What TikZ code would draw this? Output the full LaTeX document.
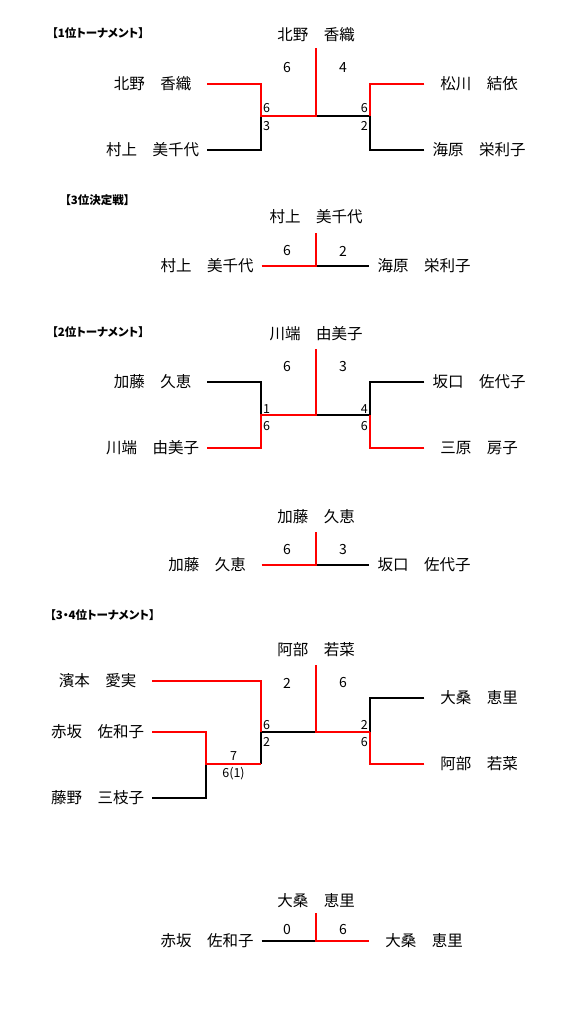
\documentclass[tikz,border=0pt]{standalone}
\usepackage{fontspec}
\setmainfont{Noto Sans CJK JP}
\newfontfamily\ttlfont[RawFeature=+palt]{Noto Sans CJK JP}
\usepackage{tikz}
\usetikzlibrary{positioning}
\definecolor{winred}{RGB}{255,0,0}

\begin{document}
\begin{tikzpicture}[x=1pt,y=-1pt,
  font=\fontsize{15.5}{17}\selectfont,
  ttl/.style={font=\ttlfont\fontsize{11.5}{13}\selectfont\bfseries,anchor=west,inner sep=0pt},
  player/.style={minimum width=109pt,minimum height=17pt,inner sep=0pt},
  champ/.style={inner sep=0pt},
  big/.style={font=\fontsize{14}{15}\selectfont,inner sep=0pt},
  sml/.style={font=\fontsize{12.5}{13}\selectfont,inner sep=0pt},
  ln/.style={line width=1.4pt,black},
  wn/.style={line width=1.4pt,winred},
]

\useasboundingbox (0,0) rectangle (588,1024);

% ------------------------------------------------------------------
% 1st place bracket
% ------------------------------------------------------------------
\begin{scope}
  \node[ttl] (t1) at (52,33) {【1位トーナメント】};
  \node[champ] (w1) at (316,35) {北野　香織};

  \node[player] (p1) at (152.5,84) {北野　香織};
  \node[player] (p2) at (152.5,150) {村上　美千代};
  \node[player] (p3) at (479,84) {松川　結依};
  \node[player] (p4) at (479,150) {海原　栄利子};

  \coordinate (j1) at (261,116);
  \coordinate (j2) at (370,116);
  \coordinate (c1) at (316,116);
  \coordinate (top1) at (316,48);

  \draw[ln] (p2.east) -| (j1);
  \draw[ln] (c1) -- (j2);
  \draw[ln] (p4.west) -| (j2);
  \draw[wn] (p1.east) -| (j1) -- (c1) -- (top1);
  \draw[wn] (p3.west) -| (j2);

  \node[big] (s1a) at (287,68) {6};
  \node[big] (s1b) at (343,68) {4};
  \node[sml,anchor=west] (s1c) at (263,108) {6};
  \node[sml,anchor=west] (s1d) at (263,126) {3};
  \node[sml,anchor=east] (s1e) at (368,108) {6};
  \node[sml,anchor=east] (s1f) at (368,126) {2};
\end{scope}

% ------------------------------------------------------------------
% 3rd place match
% ------------------------------------------------------------------
\begin{scope}
  \node[ttl] (t2) at (65,200) {【3位決定戦】};
  \node[champ] (w2) at (316,217) {村上　美千代};

  \node[player] (q1) at (207,266) {村上　美千代};
  \node[player] (q2) at (424,266) {海原　栄利子};

  \coordinate (c2) at (316,266);
  \coordinate (top2) at (316,233);

  \draw[ln] (c2) -- (q2.west);
  \draw[wn] (q1.east) -- (c2) -- (top2);

  \node[big] (s2a) at (287,251) {6};
  \node[big] (s2b) at (343,251) {2};
\end{scope}

% ------------------------------------------------------------------
% 2nd place bracket
% ------------------------------------------------------------------
\begin{scope}
  \node[ttl] (t3) at (52,332) {【2位トーナメント】};
  \node[champ] (w3) at (316,334) {川端　由美子};

  \node[player] (r1) at (152.5,382) {加藤　久恵};
  \node[player] (r2) at (152.5,448) {川端　由美子};
  \node[player] (r3) at (479,382) {坂口　佐代子};
  \node[player] (r4) at (479,448) {三原　房子};

  \coordinate (j3) at (261,415);
  \coordinate (j4) at (370,415);
  \coordinate (c3) at (316,415);
  \coordinate (top3) at (316,349);

  \draw[ln] (r1.east) -| (j3);
  \draw[ln] (c3) -- (j4);
  \draw[ln] (r3.west) -| (j4);
  \draw[wn] (r2.east) -| (j3) -- (c3) -- (top3);
  \draw[wn] (r4.west) -| (j4);

  \node[big] (s3a) at (287,367) {6};
  \node[big] (s3b) at (343,367) {3};
  \node[sml,anchor=west] (s3c) at (263,409) {1};
  \node[sml,anchor=west] (s3d) at (263,426) {6};
  \node[sml,anchor=east] (s3e) at (368,409) {4};
  \node[sml,anchor=east] (s3f) at (368,426) {6};
\end{scope}

% ------------------------------------------------------------------
% 2nd place final
% ------------------------------------------------------------------
\begin{scope}
  \node[champ] (w4) at (316,517) {加藤　久恵};

  \node[player] (m1) at (207,565) {加藤　久恵};
  \node[player] (m2) at (424,565) {坂口　佐代子};

  \coordinate (c4) at (316,565);
  \coordinate (top4) at (316,532);

  \draw[ln] (c4) -- (m2.west);
  \draw[wn] (m1.east) -- (c4) -- (top4);

  \node[big] (s4a) at (287,550) {6};
  \node[big] (s4b) at (343,550) {3};
\end{scope}

% ------------------------------------------------------------------
% 3rd/4th place bracket
% ------------------------------------------------------------------
\begin{scope}
  \node[ttl] (t5) at (50,615) {【3・4位トーナメント】};
  \node[champ] (w5) at (316,650) {阿部　若菜};

  \node[player] (u1) at (97.5,681) {濱本　愛実};
  \node[player] (u2) at (97.5,732) {赤坂　佐和子};
  \node[player] (u3) at (97.5,798) {藤野　三枝子};
  \node[player] (v1) at (479,698) {大桑　恵里};
  \node[player] (v2) at (479,764) {阿部　若菜};

  \coordinate (k0) at (206,764);
  \coordinate (k0b) at (261,764);
  \coordinate (k1) at (261,732);
  \coordinate (k2) at (370,732);
  \coordinate (c5) at (316,732);
  \coordinate (top5) at (316,665);

  \draw[ln] (u3.east) -| (k0);
  \draw[ln] (k0b) -- (k1) -- (c5);
  \draw[ln] (v1.west) -| (k2);
  \draw[wn] (u1.east) -| (k1);
  \draw[wn] (u2.east) -| (k0) -- (k0b);
  \draw[wn] (top5) -- (c5) -- (k2);
  \draw[wn] (v2.west) -| (k2);

  \node[big] (s5a) at (287,683) {2};
  \node[big] (s5b) at (343,683) {6};
  \node[sml,anchor=west] (s5c) at (263,725) {6};
  \node[sml,anchor=west] (s5d) at (263,742) {2};
  \node[sml,anchor=east] (s5e) at (368,725) {2};
  \node[sml,anchor=east] (s5f) at (368,742) {6};
  \node[sml] (s5g) at (233.5,756) {7};
  \node[sml] (s5h) at (233.5,774) {6(1)};
\end{scope}

% ------------------------------------------------------------------
% 3rd/4th place final
% ------------------------------------------------------------------
\begin{scope}
  \node[champ] (w6) at (316,901) {大桑　恵里};

  \node[player] (x1) at (207,941) {赤坂　佐和子};
  \node[player] (x2) at (424,941) {大桑　恵里};

  \coordinate (c6) at (316,941);
  \coordinate (top6) at (316,913);

  \draw[ln] (x1.east) -- (c6);
  \draw[wn] (top6) -- (c6) -- (x2.west);

  \node[big] (s6a) at (287,929) {0};
  \node[big] (s6b) at (343,929) {6};
\end{scope}

\end{tikzpicture}
\end{document}
